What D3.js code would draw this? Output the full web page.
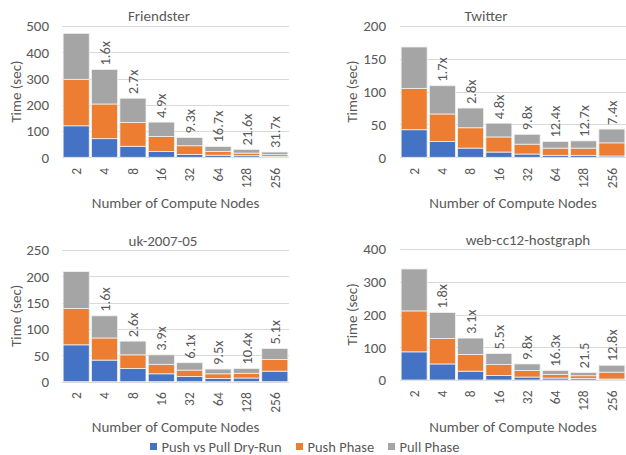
<!DOCTYPE html>
<html>
<head>
<meta charset="utf-8">
<script src="https://cdn.jsdelivr.net/npm/d3@7"></script>
<style>
  body { margin: 0; background: #fff; }
  svg { display: block; }
  text { font-family: Carlito, Calibri, Lato, sans-serif; fill: #595959; }
</style>
</head>
<body>
<svg id="chart" width="626" height="455"></svg>
<script>
// data
const nodes = ['2', '4', '8', '16', '32', '64', '128', '256'];
const seriesNames = ['Push vs Pull Dry-Run', 'Push Phase', 'Pull Phase'];

const friendsterDryRun = [120, 71, 42, 22, 11, 8, 6, 3];
const friendsterPush = [177, 132, 91, 57, 33, 14, 10, 7];
const friendsterPull = [175, 131, 92, 55, 31, 19, 14, 10];
const friendsterSpeedup = ['', '1.6x', '2.7x', '4.9x', '9.3x', '16.7x', '21.6x', '31.7x'];
const friendsterTicks = [0, 100, 200, 300, 400, 500];

const twitterDryRun = [42, 24, 14, 8, 5, 3, 3, 2];
const twitterPush = [63, 42, 31, 23, 15, 11, 11, 20];
const twitterPull = [63, 43, 30, 21, 15, 10, 11, 21];
const twitterSpeedup = ['', '1.7x', '2.8x', '4.8x', '9.8x', '12.4x', '12.7x', '7.4x'];
const twitterTicks = [0, 50, 100, 150, 200];

const ukDryRun = [70, 41, 25, 15, 10, 6, 7, 20];
const ukPush = [69, 42, 26, 18, 12, 9, 9, 22];
const ukPull = [70, 42, 26, 18, 14, 9, 9, 21];
const ukSpeedup = ['', '1.6x', '2.6x', '3.9x', '6.1x', '9.5x', '10.4x', '5.1x'];
const ukTicks = [0, 50, 100, 150, 200, 250];

const webDryRun = [86, 49, 27, 14, 9, 6, 5, 3];
const webPush = [125, 78, 51, 33, 20, 11, 8, 21];
const webPull = [128, 79, 50, 34, 20, 12, 10, 21];
const webSpeedup = ['', '1.8x', '3.1x', '5.5x', '9.8x', '16.3x', '21.5', '12.8x'];
const webTicks = [0, 100, 200, 300, 400];

const colors = ['#4472C4', '#ED7D31', '#A5A5A5'];

// panel layout (plot box, title spot, axis title spots)
const panels = [
  { title: 'Friendster', dry: friendsterDryRun, push: friendsterPush, pull: friendsterPull,
    speedup: friendsterSpeedup, ticks: friendsterTicks,
    x0: 62, x1: 289, y0: 157.3, y1: 26, titleX: 159, titleY: 16, tickX: 49, yTitleX: 16, xTitleY: 203 },
  { title: 'Twitter', dry: twitterDryRun, push: twitterPush, pull: twitterPull,
    speedup: twitterSpeedup, ticks: twitterTicks,
    x0: 400, x1: 626, y0: 157.3, y1: 26, titleX: 486, titleY: 16, tickX: 386, yTitleX: 352, xTitleY: 203 },
  { title: 'uk-2007-05', dry: ukDryRun, push: ukPush, pull: ukPull,
    speedup: ukSpeedup, ticks: ukTicks,
    x0: 62, x1: 289, y0: 381.7, y1: 250, titleX: 163, titleY: 241, tickX: 49, yTitleX: 16, xTitleY: 427 },
  { title: 'web-cc12-hostgraph', dry: webDryRun, push: webPush, pull: webPull,
    speedup: webSpeedup, ticks: webTicks,
    x0: 400, x1: 626, y0: 380, y1: 249, titleX: 528, titleY: 240, tickX: 386, yTitleX: 352, xTitleY: 427 }
];

const svg = d3.select('#chart');

panels.forEach((p) => {
  const g = svg.append('g');

  const x = d3.scaleBand().domain(nodes).range([p.x0, p.x1]).paddingInner(0.08).paddingOuter(0.04);
  const yMax = p.ticks[p.ticks.length - 1];
  const y = d3.scaleLinear().domain([0, yMax]).range([p.y0, p.y1]);

  const rows = nodes.map((n, i) => ({ node: n, a: p.dry[i], b: p.push[i], c: p.pull[i], s: p.speedup[i] }));
  const stacked = d3.stack().keys(['a', 'b', 'c'])(rows);

  // gridlines
  g.selectAll('.grid')
    .data(p.ticks)
    .enter()
    .append('line')
    .attr('x1', p.x0)
    .attr('x2', p.x1)
    .attr('y1', (d) => Math.round(y(d)) + 0.5)
    .attr('y2', (d) => Math.round(y(d)) + 0.5)
    .attr('stroke', '#D9D9D9')
    .attr('stroke-width', 1);

  // y tick labels
  g.selectAll('.ytick')
    .data(p.ticks)
    .enter()
    .append('text')
    .attr('x', p.tickX)
    .attr('y', (d) => y(d))
    .attr('dy', '0.35em')
    .attr('text-anchor', 'end')
    .attr('font-size', '15px')
    .text((d) => d);

  // stacked bars
  g.selectAll('.layer')
    .data(stacked)
    .enter()
    .append('g')
    .attr('fill', (d, i) => colors[i])
    .selectAll('rect')
    .data((d) => d)
    .enter()
    .append('rect')
    .attr('x', (d) => x(d.data.node))
    .attr('width', x.bandwidth())
    .attr('y', (d) => y(d[1]))
    .attr('height', (d) => y(d[0]) - y(d[1]))
    .attr('stroke', '#f0f0f0')
    .attr('stroke-width', 0.8);

  // speedup labels over bars
  g.selectAll('.speedup')
    .data(rows.filter((d) => d.s))
    .enter()
    .append('text')
    .attr('transform', (d) => `translate(${x(d.node) + x.bandwidth() / 2}, ${y(d.a + d.b + d.c) - 4}) rotate(-90)`)
    .attr('dy', '0.35em')
    .attr('text-anchor', 'start')
    .attr('font-size', '14.5px')
    .text((d) => d.s);

  // x tick labels, rotated
  const tickTop = p.y0 + 10.5;
  g.selectAll('.xtick')
    .data(nodes)
    .enter()
    .append('text')
    .attr('transform', (d) => `translate(${x(d) + x.bandwidth() / 2}, ${tickTop}) rotate(-90)`)
    .attr('dy', '0.35em')
    .attr('text-anchor', 'end')
    .attr('font-size', '13.5px')
    .text((d) => d);

  // titles
  g.append('text')
    .attr('x', p.titleX)
    .attr('y', p.titleY)
    .attr('dy', '0.35em')
    .attr('text-anchor', 'middle')
    .attr('font-size', '15px')
    .text(p.title);

  g.append('text')
    .attr('transform', `translate(${p.yTitleX}, ${(p.y0 + p.y1) / 2}) rotate(-90)`)
    .attr('dy', '0.35em')
    .attr('text-anchor', 'middle')
    .attr('font-size', '15px')
    .text('Time (sec)');

  g.append('text')
    .attr('x', (p.x0 + p.x1) / 2)
    .attr('y', p.xTitleY)
    .attr('dy', '0.35em')
    .attr('text-anchor', 'middle')
    .attr('font-size', '15px')
    .text('Number of Compute Nodes');
});

// legend
const legendX = [150, 296, 388];
const legend = svg.append('g')
  .selectAll('g')
  .data(seriesNames)
  .enter()
  .append('g')
  .attr('transform', (d, i) => `translate(${legendX[i]}, 446.5)`);

legend.append('rect')
  .attr('x', 0)
  .attr('y', -3.5)
  .attr('width', 7)
  .attr('height', 7)
  .attr('fill', (d, i) => colors[i]);

legend.append('text')
  .attr('x', 11.5)
  .attr('y', 0)
  .attr('dy', '0.35em')
  .attr('font-size', '14.5px')
  .text((d) => d);
</script>
</body>
</html>
